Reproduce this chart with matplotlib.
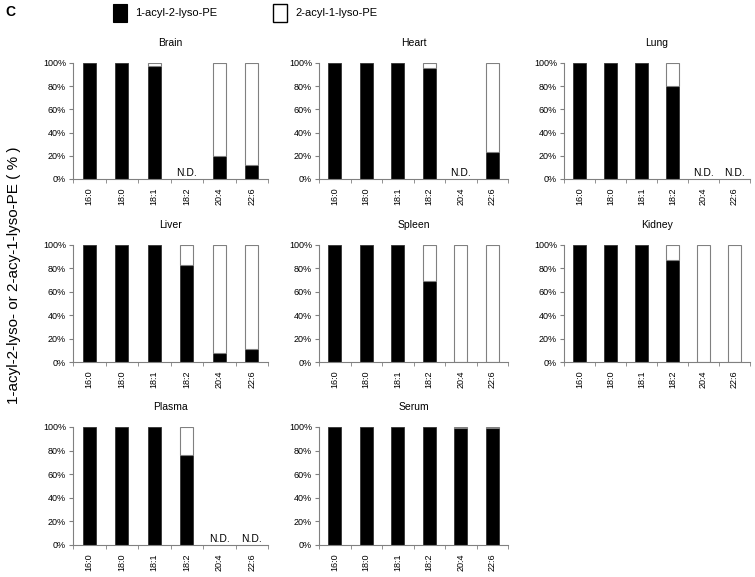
import numpy as np
import matplotlib.pyplot as plt

plt.rcParams['font.family'] = ['Liberation Sans', 'DejaVu Sans']

fatty_acids = ["16:0", "18:0", "18:1", "18:2", "20:4", "22:6"]
tissues = ["Brain", "Heart", "Lung", "Liver", "Spleen", "Kidney", "Plasma", "Serum"]

# percentage of 1-acyl-2-lyso-PE; None = not detected
brain = [100, 100, 97, None, 20, 12]
heart = [100, 100, 100, 96, None, 23]
lung = [100, 100, 100, 80, None, None]
liver = [100, 100, 100, 83, 8, 11]
spleen = [100, 100, 100, 69, 0, 0]
kidney = [100, 100, 100, 87, 0, 0]
plasma = [100, 100, 100, 76, None, None]
serum = [100, 100, 100, 100, 99, 99]
series = [brain, heart, lung, liver, spleen, kidney, plasma, serum]

W, H = 755, 577
fig = plt.figure(figsize=(W / 100, H / 100), dpi=100)

cols = [(73, 268), (319, 508), (564, 750)]
rows = [(63, 179), (245, 362), (427, 545)]

x = np.arange(len(fatty_acids))
for i, (name, vals) in enumerate(zip(tissues, series)):
    (x0, x1), (y0, y1) = cols[i % 3], rows[i // 3]
    ax = fig.add_axes([x0 / W, 1 - y1 / H, (x1 - x0) / W, (y1 - y0) / H])
    for xi, v in zip(x, vals):
        if v is None:
            ax.text(xi, 0.5, "N.D.", ha="center", va="bottom", fontsize=7.5)
            continue
        ax.bar(xi, v, width=0.4, color="black", edgecolor="#333333", linewidth=0.6)
        if v < 100:
            ax.bar(xi, 100 - v, bottom=v, width=0.4, color="white",
                   edgecolor="#808080", linewidth=0.8)
    ax.set_xlim(-0.5, len(fatty_acids) - 0.5)
    ax.set_ylim(0, 100)
    ax.set_yticks(range(0, 101, 20))
    ax.set_yticklabels([f"{t}%" for t in range(0, 101, 20)], fontsize=6.5)
    ax.set_xticks(x)
    ax.set_xticklabels(fatty_acids, rotation=90, fontsize=6.5)
    ax.tick_params(axis="x", which="major", length=0, pad=6)
    ax.set_xticks(np.arange(-0.5, len(fatty_acids)), minor=True)
    ax.tick_params(axis="x", which="minor", length=3, color="#808080", direction="out")
    ax.tick_params(axis="y", length=3, color="#808080", pad=2)
    for s in ["top", "right"]:
        ax.spines[s].set_visible(False)
    for s in ["left", "bottom"]:
        ax.spines[s].set_color("#808080")
        ax.spines[s].set_linewidth(0.8)
    ax.set_title(name, fontsize=7.5, pad=12)

fig.text(5 / W, 1 - 12 / H, "C", fontsize=10, fontweight="bold", va="center")

# legend boxes
fig.patches.append(plt.Rectangle((113 / W, 1 - 22 / H), 14 / W, 18 / H,
                                 transform=fig.transFigure, facecolor="black",
                                 edgecolor="black", linewidth=0.8))
fig.text(135 / W, 1 - 13 / H, "1-acyl-2-lyso-PE", fontsize=8, va="center")
fig.patches.append(plt.Rectangle((273 / W, 1 - 22 / H), 14 / W, 18 / H,
                                 transform=fig.transFigure, facecolor="white",
                                 edgecolor="black", linewidth=1.0))
fig.text(295 / W, 1 - 13 / H, "2-acyl-1-lyso-PE", fontsize=8, va="center")

fig.text(14 / W, 1 - 275 / H, "1-acyl-2-lyso- or 2-acy-1-lyso-PE ( % )",
         rotation=90, fontsize=11, ha="center", va="center")

fig.savefig("out.png", dpi=100)
